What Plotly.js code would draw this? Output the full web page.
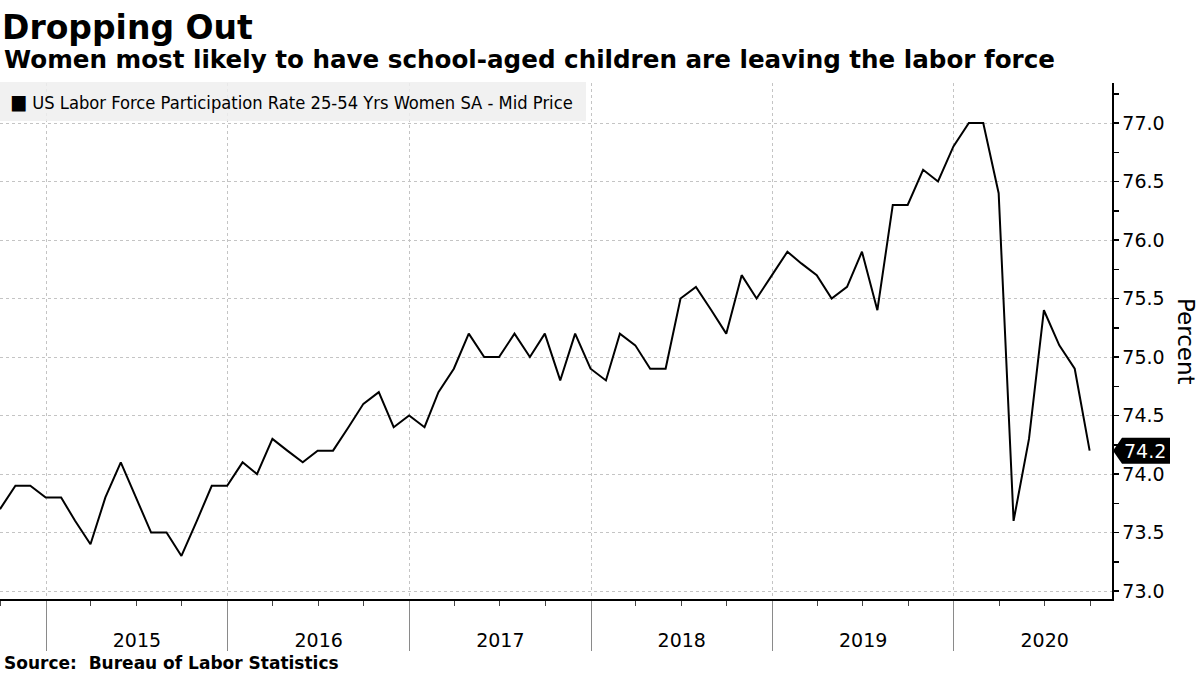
<!DOCTYPE html>
<html>
<head>
<meta charset="utf-8">
<script src="https://cdn.plot.ly/plotly-3.0.1.min.js"></script>
<style>html,body{margin:0;padding:0;background:#fff;}#chart{width:1200px;height:675px;}</style>
</head>
<body>
<div id="chart"></div>
<script>
// ---- data ----
const months = [
  '2014-09','2014-10','2014-11','2014-12',
  '2015-01','2015-02','2015-03','2015-04','2015-05','2015-06','2015-07','2015-08','2015-09','2015-10','2015-11','2015-12',
  '2016-01','2016-02','2016-03','2016-04','2016-05','2016-06','2016-07','2016-08','2016-09','2016-10','2016-11','2016-12',
  '2017-01','2017-02','2017-03','2017-04','2017-05','2017-06','2017-07','2017-08','2017-09','2017-10','2017-11','2017-12',
  '2018-01','2018-02','2018-03','2018-04','2018-05','2018-06','2018-07','2018-08','2018-09','2018-10','2018-11','2018-12',
  '2019-01','2019-02','2019-03','2019-04','2019-05','2019-06','2019-07','2019-08','2019-09','2019-10','2019-11','2019-12',
  '2020-01','2020-02','2020-03','2020-04','2020-05','2020-06','2020-07','2020-08','2020-09'
];
const participationRate = [
  73.7,73.9,73.9,73.8,
  73.8,73.6,73.4,73.8,74.1,73.8,73.5,73.5,73.3,73.6,73.9,73.9,
  74.1,74.0,74.3,74.2,74.1,74.2,74.2,74.4,74.6,74.7,74.4,74.5,
  74.4,74.7,74.9,75.2,75.0,75.0,75.2,75.0,75.2,74.8,75.2,74.9,
  74.8,75.2,75.1,74.9,74.9,75.5,75.6,75.4,75.2,75.7,75.5,75.7,
  75.9,75.8,75.7,75.5,75.6,75.9,75.4,76.3,76.3,76.6,76.5,76.8,
  77.0,77.0,76.4,73.6,74.3,75.4,75.1,74.9,74.2
];
const seriesName = 'US Labor Force Participation Rate 25-54 Yrs Women SA - Mid Price';
const yTicks = [73.0,73.5,74.0,74.5,75.0,75.5,76.0,76.5,77.0];

// monthly observations are plotted at month end
function monthEnd(m){
  const [y,mo] = m.split('-').map(Number);
  const d = new Date(Date.UTC(y, mo, 0));
  return d.toISOString().slice(0,10);
}
const xDates = months.map(monthEnd);
const lastVal = participationRate[participationRate.length-1];

// layout helpers (pixel -> paper)
const M = {l:0, r:88, t:83, b:76};
const PW = 1200 - M.l - M.r, PH = 675 - M.t - M.b;
const px = p => (p - M.l) / PW;
const py = p => 1 - (p - M.t) / PH;

const FONT = 'DejaVu Sans, Verdana, sans-serif';
const COND = 'DejaVu Sans Condensed, DejaVu Sans, sans-serif';

const trace = {
  x: xDates, y: participationRate, type: 'scatter', mode: 'lines',
  name: seriesName, line: {color: '#000', width: 2}, showlegend: false,
  hoverinfo: 'x+y'
};

const layout = {
  width: 1200, height: 675,
  margin: M,
  paper_bgcolor: '#fff', plot_bgcolor: '#fff',
  font: {family: FONT, color: '#000'},
  title: {
    text: '<b>Dropping Out</b>',
    font: {family: FONT, size: 33, color: '#000'},
    x: 2/1200, xref: 'container', xanchor: 'left',
    y: 1 - 27/675, yref: 'container', yanchor: 'middle'
  },
  xaxis: {
    type: 'date',
    range: ['2014-09-30', '2020-11-14'],
    tick0: '2015-01-01', dtick: 'M12',
    tickformat: '%Y', ticklabelmode: 'period',
    ticks: 'outside', ticklen: 50, tickwidth: 1, tickcolor: '#8a8a8a',
    ticklabelstandoff: -26,
    tickfont: {family: FONT, size: 19, color: '#000'},
    showgrid: true, gridcolor: '#c4c4c4', griddash: 'dot', gridwidth: 1,
    showline: true, linecolor: '#000', linewidth: 1.5,
    zeroline: false, fixedrange: true,
    minor: {dtick: 'M3', tick0: '2015-01-01', ticks: 'outside', ticklen: 5, tickcolor: '#444', showgrid: false}
  },
  yaxis: {
    side: 'right',
    range: [72.932, 77.342],
    tickmode: 'array', tickvals: yTicks, tickformat: '.1f',
    ticks: 'outside', ticklen: 5, tickwidth: 1.5, tickcolor: '#000',
    tickfont: {family: FONT, size: 19, color: '#000'},
    showgrid: true, gridcolor: '#c4c4c4', griddash: 'dot', gridwidth: 1,
    showline: true, linecolor: '#000', linewidth: 1.5,
    zeroline: false, fixedrange: true,
    minor: {dtick: 0.25, tick0: 73, ticks: 'outside', ticklen: 5, tickcolor: '#000', showgrid: false}
  },
  shapes: [
    // legend box
    {type: 'rect', xref: 'paper', yref: 'paper', x0: px(0), x1: px(586), y0: py(121), y1: py(82),
     fillcolor: 'rgba(238,238,238,0.85)', line: {width: 0}, layer: 'above'},
    // last-value tag
    {type: 'path', xref: 'paper', yref: 'y', xsizemode: 'pixel', ysizemode: 'pixel',
     xanchor: 1, yanchor: lastVal,
     path: 'M 1 0 L 10 -13 L 58 -13 L 58 13 L 10 13 Z',
     fillcolor: '#000', line: {width: 0}, layer: 'above'}
  ],
  annotations: [
    {text: '<b>Women most likely to have school-aged children are leaving the labor force</b>',
     xref: 'paper', yref: 'paper', x: px(2), y: py(60), xanchor: 'left', yanchor: 'middle',
     showarrow: false, font: {family: FONT, size: 24.6, color: '#000'}},
    {text: '<span style="font-size:20px">■</span> ' + seriesName,
     xref: 'paper', yref: 'paper', x: px(8), y: py(102), xanchor: 'left', yanchor: 'middle',
     showarrow: false, font: {family: COND, size: 18.2, color: '#000'}},
    {text: '<b>Source:  Bureau of Labor Statistics</b>',
     xref: 'paper', yref: 'paper', x: px(2), y: py(663), xanchor: 'left', yanchor: 'middle',
     showarrow: false, font: {family: FONT, size: 17, color: '#000'}},
    {text: 'Percent', textangle: 90,
     xref: 'paper', yref: 'paper', x: px(1186), y: py(341), xanchor: 'center', yanchor: 'middle',
     showarrow: false, font: {family: FONT, size: 23, color: '#000'}},
    {text: lastVal.toFixed(1),
     xref: 'paper', yref: 'y', x: 1, y: lastVal, xanchor: 'left', yanchor: 'middle', xshift: 10,
     showarrow: false, font: {family: FONT, size: 19, color: '#fff'}}
  ]
};

Plotly.newPlot('chart', [trace], layout, {displayModeBar: false, staticPlot: true});
</script>
</body>
</html>
